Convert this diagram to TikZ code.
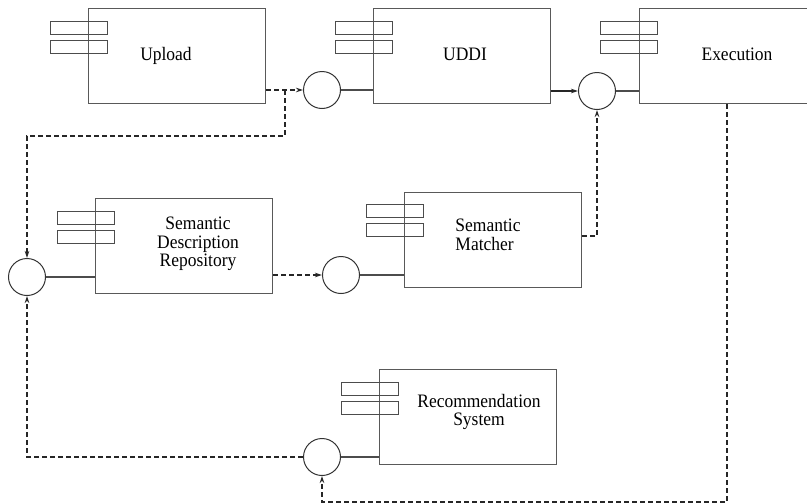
\documentclass[tikz,border=0pt]{standalone}
\usepackage{fontspec}
\setmainfont{Liberation Serif}[FakeStretch=0.92]
\usetikzlibrary{arrows.meta,calc}
\begin{document}
\begin{tikzpicture}[x=1pt,y=-1pt,
  comp/.style={draw=black!65, line width=1.1pt, minimum width=177pt, minimum height=95pt, inner sep=0pt, anchor=north west},
  tab/.style={draw=black!70, line width=1.1pt, minimum width=57pt, minimum height=12.5pt, inner sep=0pt, anchor=north west},
  iface/.style={circle, draw=black!80, line width=1pt, minimum size=37pt, inner sep=0pt},
  lbl/.style={font=\fontsize{19}{18.5}\selectfont, align=center, inner sep=0pt},
  link/.style={draw=black!70, line width=1.1pt},
  tip/.style={-{Stealth[length=7pt,width=4.5pt]}},
  dep/.style={draw=black!85, line width=1.1pt, dash pattern=on 5pt off 3pt, tip},
]
\useasboundingbox (0,0) rectangle (807,504);
\clip (0,0) rectangle (807,504);

% components
\node[comp] (up) at (88,8) {};
\node[tab] (upT1) at (50,21) {};
\node[tab] (upT2) at (50,40) {};
\node[lbl, anchor=base] (upL) at (166,60) {Upload};

\node[comp] (uddi) at (373,8) {};
\node[tab] (uddiT1) at (335,21) {};
\node[tab] (uddiT2) at (335,40) {};
\node[lbl, anchor=base] (uddiL) at (465,60) {UDDI};

\node[comp, minimum width=200pt] (ex) at (639,8) {};
\node[tab] (exT1) at (600,21) {};
\node[tab] (exT2) at (600,40) {};
\node[lbl, anchor=base] (exL) at (737,60) {Execution};

\node[comp] (sdr) at (95,198) {};
\node[tab] (sdrT1) at (57,211) {};
\node[tab] (sdrT2) at (57,230) {};
\node[lbl] (sdrL) at (198,244) {Semantic\\Description\\Repository};

\node[comp] (sm) at (404,192) {};
\node[tab] (smT1) at (366,204) {};
\node[tab] (smT2) at (366,223) {};
\node[lbl, align=left] (smL) at (488,235) {Semantic\\Matcher};

\node[comp] (rs) at (379,369) {};
\node[tab] (rsT1) at (341,382) {};
\node[tab] (rsT2) at (341,401) {};
\node[lbl] (rsL) at (479,412) {Recommendation\\System};

% interfaces
\node[iface] (i1) at (322,90) {};
\node[iface] (i2) at (597,91) {};
\node[iface] (i3) at (27,277) {};
\node[iface] (i4) at (341,275) {};
\node[iface] (i5) at (322,457) {};

% solid links
\draw[link] (i1.east) -- (i1.east -| uddi.west);
\draw[link] (i2.east) -- (i2.east -| ex.west);
\draw[link] (i3.east) -- (i3.east -| sdr.west);
\draw[link] (i4.east) -- (i4.east -| sm.west);
\draw[link] (i5.east) -- (i5.east -| rs.west);

% dependencies
\coordinate (j1) at (285,90);
\coordinate (j2) at (285,136);
\draw[dep] (i1.west -| up.east) -- (i1.west);
\draw[dep] (j1) -- (j2) -- (j2 -| i3.north) -- (i3.north);
\draw[link, draw=black!85, tip] (i2.west -| uddi.east) -- (i2.west);
\coordinate (j4) at (597,236);
\draw[dep] (j4 -| sm.east) -- (j4) -- (i2.south);
\draw[dep] (i4.west -| sdr.east) -- (i4.west);
\coordinate (j5) at (727,502);
\draw[dep] (ex.south -| j5) -- (j5) -- (j5 -| i5.south) -- (i5.south);
\draw[dep] (i5.west) -- (i5.west -| i3.south) -- (i3.south);
\end{tikzpicture}
\end{document}
